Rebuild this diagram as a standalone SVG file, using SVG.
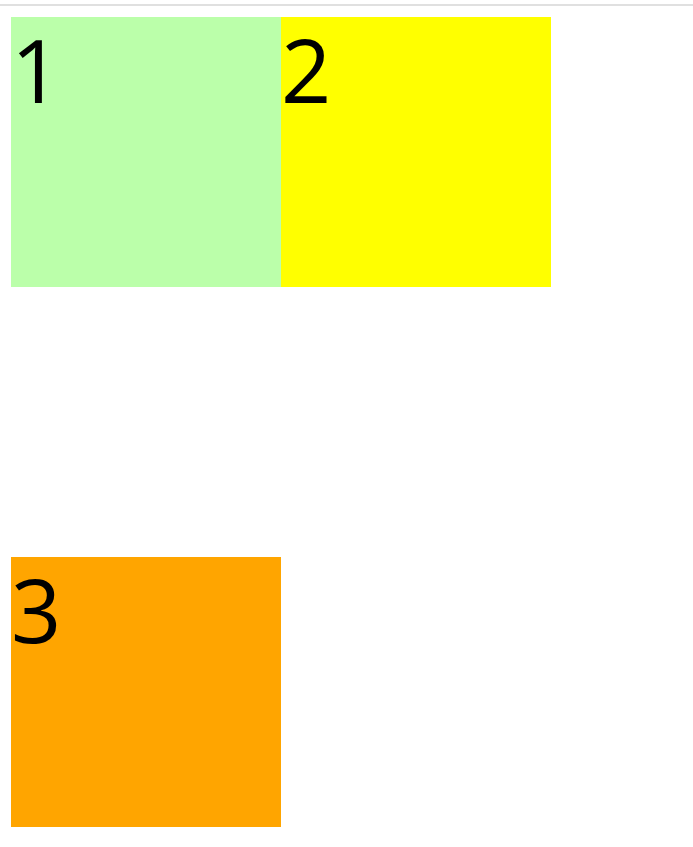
<svg xmlns="http://www.w3.org/2000/svg" width="693" height="847" viewBox="0 0 693 847">
<style>
.lbl{font-family:"Open Sans","Noto Sans","DejaVu Sans",sans-serif;font-size:88px;fill:#000}
</style>
<rect x="0" y="0" width="693" height="847" fill="#fff"/>
<rect x="0" y="4" width="693" height="2" fill="#e0e0e0"/>
<g id="node1"><rect x="11" y="17" width="270" height="270" fill="#bbffaa"/><text class="lbl" x="11" y="103">1</text></g>
<g id="node2"><rect x="281" y="17" width="270" height="270" fill="#ffff00"/><text class="lbl" x="281" y="103">2</text></g>
<g id="node3"><rect x="11" y="557" width="270" height="270" fill="#ffa500"/><text class="lbl" x="11" y="643">3</text></g>
<g id="connectors"></g>
</svg>
